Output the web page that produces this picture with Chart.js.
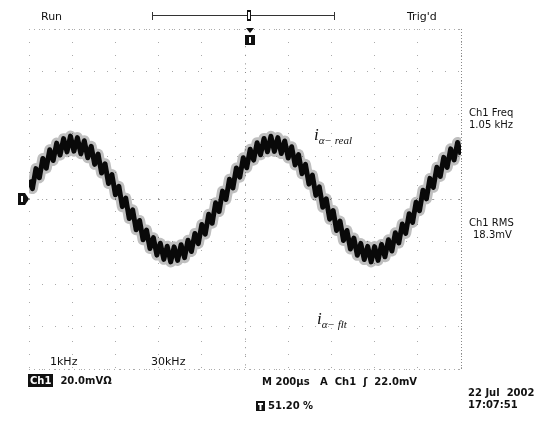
<!DOCTYPE html>
<html>
<head>
<meta charset="utf-8">
<script src="https://cdn.jsdelivr.net/npm/chart.js@4.4.1/dist/chart.umd.min.js"></script>
<style>
  body { margin: 0; background: #fff; }
  #wrap { position: relative; width: 547px; height: 426px; }
  canvas { position: absolute; left: 0; top: 0; }
  .t { position: absolute; font-family: "DejaVu Sans", sans-serif; font-size: 10px; color: #111; white-space: nowrap; line-height: 1; }
  .b { font-weight: bold; }
  .lbl { position: absolute; font-family: "Liberation Serif", serif; font-style: italic; font-size: 17px; color: #111; white-space: nowrap; line-height: 1; }
  .lbl sub { font-size: 11px; vertical-align: -4px; }
  .ch { background: #111; color: #fff; font-weight: bold; padding: 1px 2px; }
</style>
</head>
<body>
<div id="wrap">
  <canvas id="scope" width="547" height="426"></canvas>
  <div class="t" style="left:41px; top:11px; font-size:11px;">Run</div>
  <div class="t" style="left:407px; top:11px; font-size:11px;">Trig'd</div>
  <div class="t" style="left:469px; top:108px;">Ch1 Freq</div>
  <div class="t" style="left:469px; top:120px;">1.05 kHz</div>
  <div class="t" style="left:469px; top:218px;">Ch1 RMS</div>
  <div class="t" style="left:473px; top:230px;">18.3mV</div>
  <div class="lbl" style="left:314px; top:126px;">i<sub>α− real</sub></div>
  <div class="lbl" style="left:317px; top:310px;">i<sub>α− flt</sub></div>
  <div class="t" style="left:50px; top:356px; font-size:11px;">1kHz</div>
  <div class="t" style="left:151px; top:356px; font-size:11px;">30kHz</div>
  <div class="t b" style="left:28px; top:376px;"><span class="ch">Ch1</span>&nbsp; 20.0mVΩ</div>
  <div class="t b" style="left:262px; top:377px;">M 200µs &nbsp; A &nbsp;Ch1 &nbsp;ʃ &nbsp;22.0mV</div>
  <div class="t b" style="left:468px; top:388px;">22 Jul &nbsp;2002</div>
  <div class="t b" style="left:468px; top:400px;">17:07:51</div>
  <div class="t b" style="left:268px; top:401px;">51.20 %</div>
</div>
<script>
// sample spacing of the readout (µs)
const sampleStep = 16;

// Ch1 trace, mV (20 mV/div, 200 µs/div), 30 kHz ripple included
const ch1Values = [
  9.0, 4.9, 14.3, 10.0, 19.1, 14.5, 23.2, 18.1, 26.3, 20.7,
  28.4, 22.2, 29.6, 22.5, 28.9, 21.3, 27.4, 19.4, 24.8, 16.3,
  21.1, 12.2, 16.6, 7.3, 11.5, 2.0, 6.0, -3.6, 0.4, -9.2,
  -5.1, -14.5, -10.1, -19.2, -14.6, -23.3, -18.2, -26.4, -20.8, -28.4,
  -22.2, -29.6, -22.5, -28.9, -21.5, -27.6, -19.4, -24.7, -16.2, -21.0,
  -12.0, -16.5, -7.2, -11.4, -1.8, -5.9, 3.7, -0.2, 9.3, 5.2,
  14.6, 10.3, 19.4, 14.7, 23.4, 18.3, 26.5, 20.8, 28.5, 22.2,
  29.5, 22.4, 28.9, 21.4, 27.3, 19.3, 24.6, 16.0, 20.9, 11.9,
  16.3, 7.0, 11.2, 1.7, 5.7, -3.9, 0.1, -9.5, -5.4, -14.8,
  -10.4, -19.5, -14.8, -23.5, -18.4, -26.5, -20.9, -28.5, -22.3, -29.6,
  -22.4, -28.9, -21.4, -27.2, -19.2, -24.5, -15.9, -20.7, -11.8, -16.2,
  -6.9, -11.0, -1.5, -5.5, 4.1, 0.1, 9.7, 5.5, 14.9, 10.6,
  19.6, 14.9, 23.6, 18.4, 26.6, 20.9
];

const timeRange = [0, 2000];   // 10 div x 200 µs
const voltRange = [-80, 80];   // 8 div x 20 mV

const trace = ch1Values.map(function(v, i) {
    return { x: i * sampleStep, y: v };
});

// graticule borders, centre cross and screen markers
const scopePlugin = {
    id: 'scopeDecor',
    beforeDatasetsDraw(chart) {
        const ctx = chart.ctx;
        const a = chart.chartArea;
        const xs = chart.scales.x, ys = chart.scales.y;
        ctx.save();
        ctx.strokeStyle = '#888';
        ctx.lineWidth = 1;
        ctx.setLineDash([1, 2]);
        ctx.beginPath();
        ctx.moveTo(a.right + 0.5, a.top);
        ctx.lineTo(a.right + 0.5, a.bottom);
        ctx.stroke();
        ctx.strokeStyle = '#aaa';
        ctx.setLineDash([1, 4]);
        ctx.beginPath();
        ctx.moveTo(a.left, a.top + 0.5);
        ctx.lineTo(a.right, a.top + 0.5);
        ctx.moveTo(a.left, a.bottom + 0.5);
        ctx.lineTo(a.right, a.bottom + 0.5);
        ctx.stroke();
        // centre lines with minor ticks
        const cx = Math.round(xs.getPixelForValue(1000)) + 0.5;
        const cy = Math.round(ys.getPixelForValue(0)) + 0.5;
        ctx.strokeStyle = '#888';
        ctx.setLineDash([1, 7.6]);
        ctx.beginPath();
        ctx.moveTo(cx, a.top);
        ctx.lineTo(cx, a.bottom);
        ctx.moveTo(a.left, cy);
        ctx.lineTo(a.right, cy);
        ctx.stroke();
        ctx.restore();
    },
    afterDraw(chart) {
        const ctx = chart.ctx;
        const ys = chart.scales.y;
        ctx.save();
        // record bar at top
        ctx.strokeStyle = '#333';
        ctx.lineWidth = 1;
        ctx.beginPath();
        ctx.moveTo(152, 15.5); ctx.lineTo(335, 15.5);
        ctx.moveTo(152.5, 12); ctx.lineTo(152.5, 20);
        ctx.moveTo(334.5, 12); ctx.lineTo(334.5, 20);
        ctx.stroke();
        ctx.fillStyle = '#111';
        ctx.fillRect(247, 10, 4, 11);
        ctx.fillStyle = '#fff';
        ctx.fillRect(248, 12, 2, 7);
        // trigger position marker
        ctx.fillStyle = '#111';
        ctx.beginPath();
        ctx.moveTo(246, 28); ctx.lineTo(254, 28); ctx.lineTo(250, 33); ctx.closePath();
        ctx.fill();
        ctx.fillRect(245, 35, 10, 10);
        ctx.fillStyle = '#fff';
        ctx.fillRect(249, 37, 2, 6);
        // ground marker
        const gy = ys.getPixelForValue(0);
        ctx.fillStyle = '#111';
        ctx.beginPath();
        ctx.moveTo(18, gy - 6); ctx.lineTo(25, gy - 6); ctx.lineTo(29, gy);
        ctx.lineTo(25, gy + 6); ctx.lineTo(18, gy + 6); ctx.closePath();
        ctx.fill();
        ctx.fillStyle = '#fff';
        ctx.fillRect(21, gy - 3, 2, 6);
        // T marker beside the percentage
        ctx.fillStyle = '#111';
        ctx.fillRect(256, 401, 9, 10);
        ctx.fillStyle = '#fff';
        ctx.fillRect(258, 403, 5, 2);
        ctx.fillRect(259.5, 403, 2, 7);
        ctx.restore();
    }
};

document.addEventListener('DOMContentLoaded', function() {
    const ctx = document.getElementById('scope');
    new Chart(ctx, {
        type: 'line',
        data: {
            datasets: [
                {
                    label: 'halo',
                    data: trace,
                    borderColor: 'rgba(0, 0, 0, 0.25)',
                    borderWidth: 11,
                    borderJoinStyle: 'round',
                    pointRadius: 0,
                    tension: 0
                },
                {
                    label: 'Ch1',
                    data: trace,
                    borderColor: '#0d0d0d',
                    borderWidth: 5,
                    borderJoinStyle: 'round',
                    pointRadius: 0,
                    tension: 0
                }
            ]
        },
        options: {
            responsive: false,
            animation: false,
            layout: {
                padding: { left: 29, right: 86, top: 29, bottom: 57 }
            },
            plugins: {
                legend: { display: false },
                tooltip: { enabled: false }
            },
            scales: {
                x: {
                    type: 'linear',
                    min: timeRange[0],
                    max: timeRange[1],
                    ticks: { display: false, stepSize: 200 },
                    grid: { color: '#aaa', drawTicks: false },
                    border: { display: false, dash: [1, 12] }
                },
                y: {
                    min: voltRange[0],
                    max: voltRange[1],
                    ticks: { display: false, stepSize: 20 },
                    grid: { color: '#aaa', drawTicks: false },
                    border: { display: false, dash: [1, 12] }
                }
            }
        },
        plugins: [scopePlugin]
    });
});
</script>
</body>
</html>
